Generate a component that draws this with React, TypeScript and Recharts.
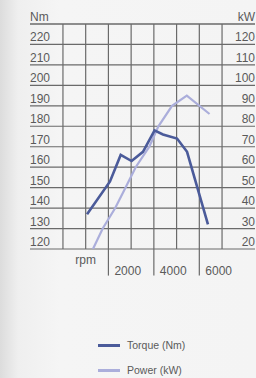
import React from 'react';
import { LineChart, Line, XAxis, YAxis, ReferenceLine, Legend } from 'recharts';

// values
const torqueRpm = [1060, 2070, 2540, 3020, 3520, 4030, 4400, 5020, 5460, 6380];
const torqueNm = [137, 153, 166, 163, 167.5, 178, 176, 174, 167.5, 132];
const powerRpm = [1320, 1750, 2300, 2750, 3200, 3800, 4200, 4800, 5450, 6450];
const powerKw = [20, 30, 40, 50, 60, 70, 80, 90, 95, 86];

const nmRows = [220, 210, 200, 190, 180, 170, 160, 150, 140, 130, 120];
const kwRows = [120, 110, 100, 90, 80, 70, 60, 50, 40, 30, 20];
const rpmGrid = [0, 1000, 2000, 3000, 4000, 5000, 6000, 7000];
const rpmLabels = [2000, 4000, 6000];

const torqueData = torqueRpm.map((rpm, i) => ({ rpm, torque: torqueNm[i] }));
const powerData = powerRpm.map((rpm, i) => ({ rpm, power: powerKw[i] }));

const FONT = '"Liberation Sans", Arial, sans-serif';
const GRID = '#6a6a6a';
const TEXT = '#5a5a5a';
const TORQUE = '#4b5b9a';
const POWER = '#abaedb';

const legendItems = [
  { name: 'Torque (Nm)', color: TORQUE },
  { name: 'Power (kW)', color: POWER },
];

const rowLabel = (left: string, right: string) => (props: any) => {
  const { x, y, width } = props.viewBox;
  return (
    <g>
      <text x={x} y={y - 3} fill={TEXT} fontSize={12} fontFamily={FONT}>
        {left}
      </text>
      <text x={x + width} y={y - 3} fill={TEXT} fontSize={12} fontFamily={FONT} textAnchor="end">
        {right}
      </text>
    </g>
  );
};

const rpmLabel = (value: number) => (props: any) => {
  const { x, y, height } = props.viewBox;
  return (
    <text x={x + 6} y={y + height - 1} fill={TEXT} fontSize={12} fontFamily={FONT}>
      {value}
    </text>
  );
};

const LegendBox = () => (
  <div style={{ display: 'flex', flexDirection: 'column', gap: 13, paddingLeft: 98 }}>
    {legendItems.map((item) => (
      <div key={item.name} style={{ display: 'flex', alignItems: 'center', height: 12 }}>
        <span style={{ width: 22, height: 3, background: item.color, display: 'inline-block' }} />
        <span style={{ marginLeft: 7, fontSize: 10.5, color: TEXT, fontFamily: FONT }}>{item.name}</span>
      </div>
    ))}
  </div>
);

export default function App() {
  return (
    <div
      style={{
        position: 'absolute',
        left: 0,
        top: 0,
        width: 256,
        height: 378,
        background: 'linear-gradient(to right, #dcdcdc 0px, #efefef 18px, #f5f5f5 60px, #f4f4f4 100%)',
      }}
    >
      <LineChart width={256} height={378} margin={{ top: 24, right: 1, bottom: 92, left: 30 }}>
        <XAxis dataKey="rpm" type="number" domain={[-1450, 8450]} allowDataOverflow hide />
        <YAxis yAxisId="nm" type="number" domain={[120, 230]} allowDataOverflow hide />
        <YAxis yAxisId="kw" orientation="right" type="number" domain={[20, 130]} allowDataOverflow hide />

        <ReferenceLine yAxisId="nm" y={230} stroke={GRID} strokeWidth={1.3} label={rowLabel('Nm', 'kW')} />
        {nmRows.map((v, i) => (
          <ReferenceLine
            key={'h' + v}
            yAxisId="nm"
            y={v}
            stroke={GRID}
            strokeWidth={1.2}
            label={rowLabel(String(v), String(kwRows[i]))}
          />
        ))}
        {rpmGrid.map((r) => (
          <ReferenceLine
            key={'v' + r}
            yAxisId="nm"
            x={r}
            stroke={GRID}
            strokeWidth={1.2}
            label={r === 1000 ? { value: 'rpm', position: 'bottom', offset: 6, fill: TEXT, fontSize: 12, fontFamily: FONT } : undefined}
          />
        ))}
        {rpmLabels.map((r) => (
          <ReferenceLine
            key={'t' + r}
            yAxisId="nm"
            segment={[{ x: r, y: 107 }, { x: r, y: 120 }]}
            ifOverflow="visible"
            stroke={GRID}
            strokeWidth={1.2}
            label={rpmLabel(r)}
          />
        ))}

        <Line
          yAxisId="kw"
          data={powerData}
          dataKey="power"
          name="Power (kW)"
          type="linear"
          stroke={POWER}
          strokeWidth={2.2}
          dot={false}
          isAnimationActive={false}
        />
        <Line
          yAxisId="nm"
          data={torqueData}
          dataKey="torque"
          name="Torque (Nm)"
          type="linear"
          stroke={TORQUE}
          strokeWidth={2.6}
          dot={false}
          isAnimationActive={false}
        />
        <Legend
          content={LegendBox}
          wrapperStyle={{ position: 'absolute', top: 339, left: 0, width: 256 }}
        />
      </LineChart>
    </div>
  );
}
